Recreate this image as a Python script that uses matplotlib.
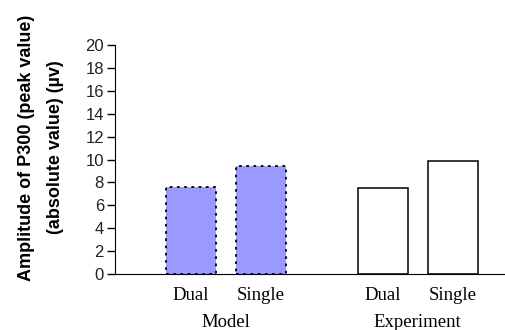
import matplotlib
matplotlib.use("Agg")
import matplotlib.pyplot as plt

# values
conditions = ["Dual", "Single", "Dual", "Single"]
groups = ["Model", "Experiment"]
model_vals = [7.62, 9.46]
experiment_vals = [7.48, 9.9]

positions = [0, 1, 2.74, 3.74]
width = 0.71

fig = plt.figure(figsize=(5.06, 3.30), dpi=100)
ax = fig.add_axes([115/506, 1 - 274/330, 1 - 115/506, (274 - 45)/330])

ax.bar(positions[:2], model_vals, width=width, color="#9999ff",
       edgecolor="black", linestyle=(0, (1.5, 2.5)), linewidth=1.3)
ax.bar(positions[2:], experiment_vals, width=width, color="white",
       edgecolor="black", linewidth=1.1)

ax.set_xlim(-1.086, 4.5)
ax.set_ylim(0, 20)
ax.set_yticks(range(0, 21, 2))
ax.tick_params(axis="y", direction="out", length=6, width=1,
               labelsize=12, labelcolor="#222222", pad=2)
for lab in ax.get_yticklabels():
    lab.set_family("Liberation Sans")

ax.set_xticks(positions)
ax.set_xticklabels(conditions, family="Liberation Serif", fontsize=13.5)
ax.tick_params(axis="x", length=0, pad=9)

for s in ["top", "right"]:
    ax.spines[s].set_visible(False)

# group labels under each pair
ax.text(0.5, -0.175, groups[0], transform=ax.get_xaxis_transform(),
        ha="center", va="top", family="Liberation Serif", fontsize=13.5)
ax.text(3.24, -0.175, groups[1], transform=ax.get_xaxis_transform(),
        ha="center", va="top", family="Liberation Serif", fontsize=13.5)

fig.text(0.081, 0.553, "Amplitude of P300 (peak value)\n(absolute value) (\u00b5v)",
         rotation=90, ha="center", va="center", fontweight="bold",
         family="Liberation Sans", fontsize=13, linespacing=1.95)

fig.savefig("out.png", dpi=100)
